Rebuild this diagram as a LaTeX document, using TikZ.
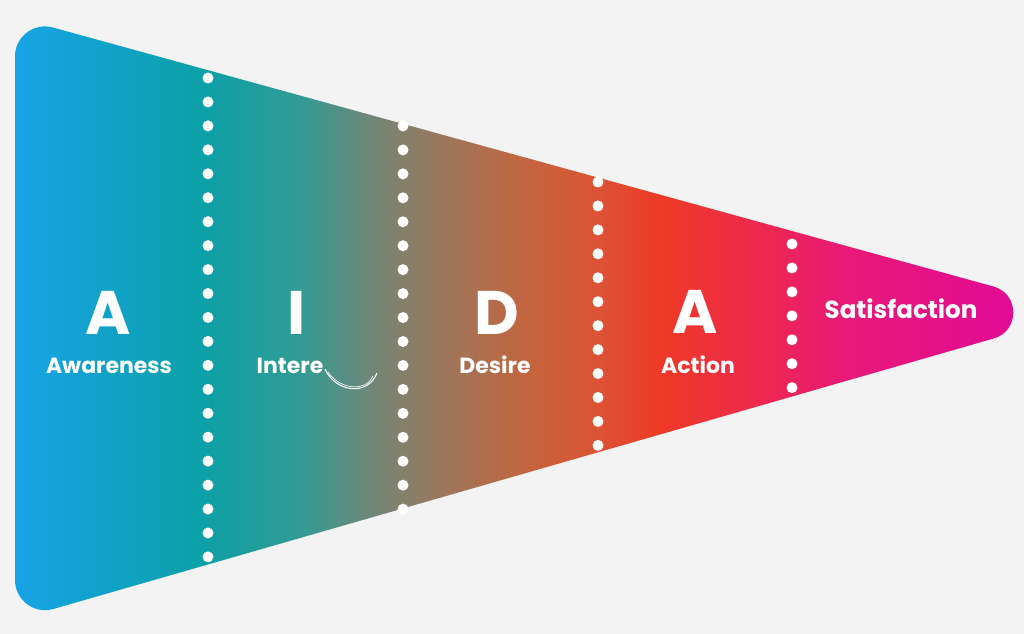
\documentclass[tikz,border=0pt]{standalone}
\usepackage{fontspec}
\setmainfont{Poppins}
\usetikzlibrary{positioning}

\definecolor{paper}{RGB}{243,243,243}
\definecolor{f0}{RGB}{24,163,230}
\definecolor{f1}{RGB}{16,162,196}
\definecolor{f2}{RGB}{12,160,168}
\definecolor{f3}{RGB}{50,155,148}
\definecolor{f4}{RGB}{120,132,115}
\definecolor{f5}{RGB}{160,118,90}
\definecolor{f6}{RGB}{196,100,62}
\definecolor{f7}{RGB}{220,82,52}
\definecolor{f8}{RGB}{238,58,38}
\definecolor{f9}{RGB}{238,40,78}
\definecolor{f10}{RGB}{232,26,118}
\definecolor{f11}{RGB}{226,10,150}

% left to right colours of the funnel (25bp..75bp is the path)
\pgfdeclarehorizontalshading{aidafunnel}{100bp}{color(0bp)=(f0); color(25bp)=(f0);
  color(30.2bp)=(f1); color(34.2bp)=(f2); color(39.2bp)=(f3); color(43.2bp)=(f4);
  color(46.6bp)=(f5); color(50.6bp)=(f6); color(54.1bp)=(f7); color(57.1bp)=(f8);
  color(62.1bp)=(f9); color(66.0bp)=(f10); color(75bp)=(f11); color(100bp)=(f11)}

\tikzset{
x=0.02cm, y=-0.02cm, % one unit is one pixel of the reference
bigletter/.style={text=white, font=\bfseries\fontsize{35}{35}\selectfont, inner sep=0pt, anchor=base}, % the A I D A letters
stage/.style={text=white, font=\bfseries\fontsize{12.5}{13}\selectfont, inner sep=0pt, anchor=base}, % the stage names
divider/.style={white, line width=0.22cm, line cap=round, dash pattern=on 0pt off 0.479cm}, % dotted separators
}

\begin{document}
\begin{tikzpicture}
    \fill[paper] (0,0) rectangle (1024,634);
    \useasboundingbox (0,0) rectangle (1024,634);

    % the funnel
    \shade[shading=aidafunnel] (15,56.4) .. controls (15,36.6) and (33.9,22.2) .. (53,27.5)
        -- (993.5,286.5) .. controls (1019.8,293.8) and (1019.9,331) .. (993.7,338.5)
        -- (53.3,609) .. controls (34.1,614.5) and (15,600) .. (15,580.1) -- cycle;

    \coordinate (d1t) at (208,78);  \coordinate (d1b) at (208,557.5);
    \coordinate (d2t) at (403,126); \coordinate (d2b) at (403,509.7);
    \coordinate (d3t) at (598,182); \coordinate (d4t) at (792,244);
    \coordinate (d3b) at (598,446); \coordinate (d4b) at (792,388);

    \draw[divider] (d1t) -- (d1b);
    \draw[divider] (d2t) -- (d2b);
    \draw[divider] (d3t) -- (d3b);
    \draw[divider] (d4t) -- (d4b);

    \node[bigletter] (bigA1) at (108,335) {A};
    \node[stage] (aware) at (109,374) {Awareness};
    \node[bigletter] (bigI) at (297,335) {I};
    \node[stage] (inter) at (290,374) {Intere};
    \node[bigletter] (bigD) at (497,335) {D};
    \node[stage] (desire) at (495,374) {Desire};
    \node[bigletter] (bigA2) at (695,334) {A};
    \node[stage] (action) at (698,374) {Action};
    \node[stage, font=\bfseries\fontsize{14}{15}\selectfont] (satis) at (901,319) {Satisfaction};

    % swirl after Intere
    \draw[white, line width=0.6pt] (325,369) .. controls (336,393) and (368,396) .. (377,373);
    \draw[white, line width=0.35pt] (328,372) .. controls (340,390) and (366,392) .. (373,376);

\end{tikzpicture}
\end{document}
